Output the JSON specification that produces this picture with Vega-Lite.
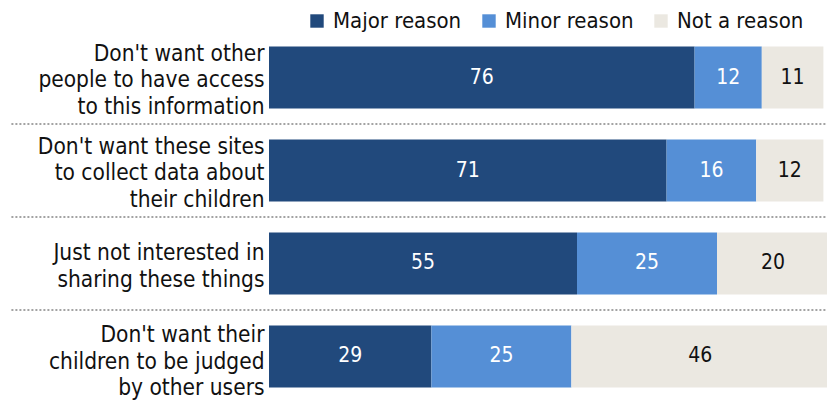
{
  "$schema": "https://vega.github.io/schema/vega-lite/v6.json",
  "width": 560,
  "height": 372,
  "autosize": "none",
  "padding": {"left": 269, "top": 31, "right": 0, "bottom": 0},
  "config": {"view": {"stroke": null}, "font": "'DejaVu Sans Condensed', 'Liberation Sans Narrow', 'Roboto Condensed', 'Liberation Sans', sans-serif"},
  "layer": [
    {
      "data": {"values": [
        {"item": "Don't want other|people to have access|to this information", "reason": "Major reason", "value": 76},
        {"item": "Don't want other|people to have access|to this information", "reason": "Minor reason", "value": 12},
        {"item": "Don't want other|people to have access|to this information", "reason": "Not a reason", "value": 11},
        {"item": "Don't want these sites|to collect data about|their children", "reason": "Major reason", "value": 71},
        {"item": "Don't want these sites|to collect data about|their children", "reason": "Minor reason", "value": 16},
        {"item": "Don't want these sites|to collect data about|their children", "reason": "Not a reason", "value": 12},
        {"item": "Just not interested in|sharing these things", "reason": "Major reason", "value": 55},
        {"item": "Just not interested in|sharing these things", "reason": "Minor reason", "value": 25},
        {"item": "Just not interested in|sharing these things", "reason": "Not a reason", "value": 20},
        {"item": "Don't want their|children to be judged|by other users", "reason": "Major reason", "value": 29},
        {"item": "Don't want their|children to be judged|by other users", "reason": "Minor reason", "value": 25},
        {"item": "Don't want their|children to be judged|by other users", "reason": "Not a reason", "value": 46}
      ]},
      "transform": [
        {"stack": "value", "groupby": ["item"], "sort": [{"field": "reason", "order": "ascending"}], "as": ["v0", "v1"]},
        {"calculate": "(datum.v0 + datum.v1) / 2", "as": "mid"}
      ],
      "encoding": {
        "y": {
          "field": "item", "type": "nominal",
          "scale": {
            "domain": [
              "Don't want other|people to have access|to this information",
              "Don't want these sites|to collect data about|their children",
              "Just not interested in|sharing these things",
              "Don't want their|children to be judged|by other users"
            ],
            "paddingInner": 0.333, "paddingOuter": 0.1667
          },
          "axis": {
            "title": null, "domain": false, "ticks": false,
            "labelExpr": "split(datum.label, '|')",
            "labelFontSize": 22.5, "labelColor": "#111111",
            "labelPadding": 5, "labelLineHeight": 26.5, "labelLimit": 0,
            "labelAlign": "right", "labelBaseline": "middle",
            "labelOffset": {"condition": [
              {"test": "indexof(datum.value, 'judged') >= 0", "value": -21},
              {"test": "length(split(datum.value, '|')) == 3", "value": -24}
            ], "value": -10}
          }
        }
      },
      "layer": [
        {
          "mark": {"type": "bar"},
          "encoding": {
            "x": {"field": "v0", "type": "quantitative", "scale": {"domain": [0, 100]}, "axis": null},
            "x2": {"field": "v1"},
            "color": {
              "field": "reason", "type": "nominal",
              "scale": {"domain": ["Major reason", "Minor reason", "Not a reason"], "range": ["#21497c", "#558fd6", "#ebe8e1"]},
              "legend": {
                "orient": "none", "legendX": 37, "legendY": -21, "direction": "horizontal",
                "title": null, "symbolType": "square", "symbolSize": 180, "symbolStrokeWidth": 0,
                "labelFontSize": 22, "labelColor": "#111111", "columnPadding": 16, "labelOffset": 5
              }
            }
          }
        },
        {
          "mark": {"type": "text", "fontSize": 21, "baseline": "middle", "align": "center"},
          "encoding": {
            "x": {"field": "mid", "type": "quantitative"},
            "text": {"field": "value", "type": "quantitative"},
            "color": {"condition": {"test": "datum.reason === 'Not a reason'", "value": "#111111"}, "value": "#ffffff"}
          }
        }
      ]
    },
    {
      "data": {"values": [
        {"item": "Don't want these sites|to collect data about|their children"},
        {"item": "Just not interested in|sharing these things"},
        {"item": "Don't want their|children to be judged|by other users"}
      ]},
      "mark": {"type": "rule", "strokeDash": [2, 2], "strokeWidth": 2, "color": "#a3a3a3"},
      "encoding": {
        "y": {"field": "item", "type": "nominal", "bandPosition": -0.25},
        "x": {"datum": -46},
        "x2": {"datum": 100}
      }
    }
  ]
}
